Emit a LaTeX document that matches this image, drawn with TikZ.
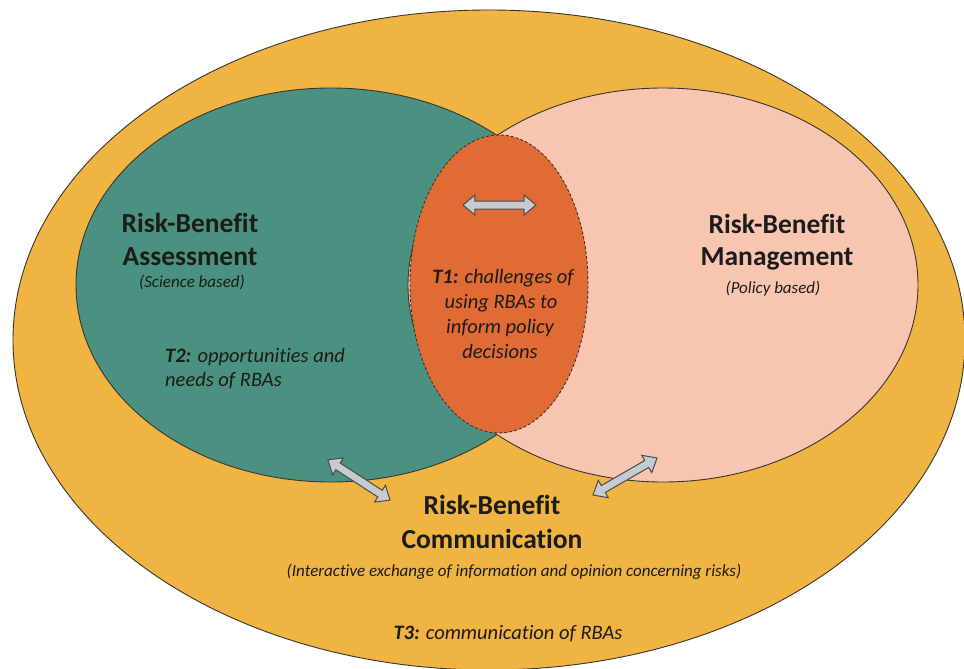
\documentclass[tikz,border=0pt]{standalone}
\usepackage{fontspec}
\setmainfont{Carlito}[Ligatures={CommonOff}]
\usetikzlibrary{shapes.arrows}

\definecolor{outergold}{HTML}{F0B443}
\definecolor{assessgreen}{HTML}{4A9181}
\definecolor{managepink}{HTML}{F8C5B0}
\definecolor{overlaporange}{HTML}{E06B35}
\definecolor{rimdark}{HTML}{3A3430}
\definecolor{arrowfill}{HTML}{C6CBD1}
\definecolor{arrowedge}{HTML}{4A4A4A}
\definecolor{inkdark}{HTML}{1C1C1C}

\tikzset{
  rim/.style={draw=rimdark, line width=0.9pt},
  overlaprim/.style={draw=rimdark, line width=0.9pt, dash pattern=on 3pt off 2pt},
  dblarrow/.style={double arrow, draw=arrowedge, fill=arrowfill, line width=1pt,
    inner xsep=0pt, inner ysep=3.5pt, double arrow head extend=6pt,
    double arrow tip angle=80},
  title/.style={anchor=base, inner sep=0pt, text=inkdark,
    font=\fontsize{27.5}{33}\selectfont\bfseries},
  subtitle/.style={anchor=base, inner sep=0pt, text=inkdark,
    font=\fontsize{17}{20}\selectfont\itshape},
  theme/.style={anchor=base, inner sep=0pt, text=inkdark,
    font=\fontsize{20.5}{25}\selectfont\itshape},
}

\begin{document}
\begin{tikzpicture}[x=1pt, y=-1pt]
\useasboundingbox (0,0) rectangle (964,669);
\fill[white] (0,0) rectangle (964,669);

% the three nested regions
\draw[rim, fill=outergold] (489,340) ellipse [x radius=476pt, y radius=330pt];
\draw[rim, fill=assessgreen] (331,285) ellipse [x radius=255pt, y radius=197pt];
\draw[rim, fill=managepink] (663,285) ellipse [x radius=255pt, y radius=197pt];
\draw[overlaprim, fill=overlaporange] (499,284) ellipse [x radius=89pt, y radius=149pt];

% exchange arrows
\node[dblarrow, minimum height=73pt] (xmid) at (499.5,205) {};
\node[dblarrow, minimum height=74pt, rotate=-33] (xleft) at (359,480) {};
\node[dblarrow, minimum height=74pt, rotate=30] (xright) at (625,476.5) {};

% assessment
\node[title] (ra1) at (190,232) {Risk-Benefit};
\node[title] (ra2) at (190,265) {Assessment};
\node[subtitle] (ra3) at (192,287) {(Science based)};
\node[theme, anchor=base west] (t2a) at (165,362) {\textbf{T2:} opportunities and};
\node[theme, anchor=base west] (t2b) at (165,386) {needs of RBAs};

% management
\node[title] (rm1) at (777,233) {Risk-Benefit};
\node[title] (rm2) at (777,265) {Management};
\node[subtitle] (rm3) at (773,293) {(Policy based)};

% overlap
\node[theme] (t1a) at (503,283) {\textbf{T1:} challenges of};
\node[theme] (t1b) at (501,308) {using RBAs to};
\node[theme] (t1c) at (500,333) {inform policy};
\node[theme] (t1d) at (500,358) {decisions};

% communication
\node[title] (rc1) at (492,514) {Risk-Benefit};
\node[title] (rc2) at (492,548) {Communication};
\node[subtitle] (rc3) at (514,576) {(Interactive exchange of information and opinion concerning risks)};
\node[theme] (t3) at (508,639) {\textbf{T3:} communication of RBAs};
\end{tikzpicture}
\end{document}
